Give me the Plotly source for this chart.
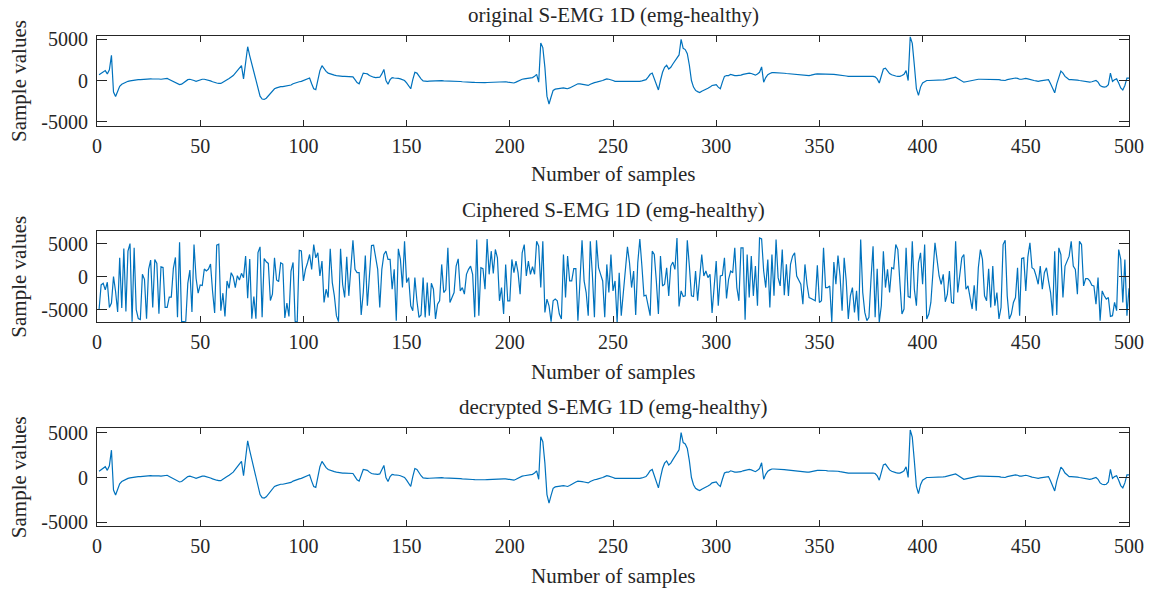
import plotly.graph_objects as go

# ---------------- data ----------------
samples = list(range(1, 501))

original = [
    700, 900, 1100, 1200, 800, 1300, 3050, -1400, -1950, -1200,
    -700, -450, -300, -200, -100, -50, 0, 50, 80, 100,
    100, 120, 130, 150, 250, 200, 180, 200, 150, 180,
    150, 200, 180, 250, 120, 0, -100, -200, -350, -500,
    -450, -250, -50, 100, 150, 100, 0, -100, 0, 100,
    150, 150, 100, 50, -50, -150, -250, -300, -350, -350,
    -200, 0, 100, 250, 400, 600, 900, 1200, 1600, 1800,
    200, 2400, 4100, 3000, 2000, 900, -200, -1200, -1900, -2250,
    -2300, -2150, -1850, -1500, -1200, -1000, -900, -800, -750, -750,
    -700, -700, -650, -550, -400, -300, -250, -150, -100, 0,
    100, 200, 300, -400, -1000, -1100, 0, 1200, 1800, 1400,
    1100, 900, 800, 700, 650, 600, 550, 500, 500, 500,
    500, 520, 500, 450, 100, -250, -400, 300, 900, 850,
    800, 600, 450, 400, 350, 350, 400, 800, 1350, 0,
    -450, 100, 350, 300, 300, 250, 200, 100, 0, -300,
    -700, -1000, 100, 1000, 900, 500, 200, -50, -100, -100,
    -80, -60, -50, -30, 0, 0, -20, -50, -50, -70,
    -80, -100, -100, -100, -100, -120, -150, -180, -200, -200,
    -200, -220, -230, -250, -250, -250, -250, -250, -240, -220,
    -200, -200, -200, -200, -180, -160, -150, -150, -200, -250,
    -300, -300, -200, -50, 50, 150, 200, 250, 300, 300,
    350, 500, 750, -200, 4550, 4000, 1600, -1900, -2850, -2000,
    -1200, -1050, -1000, -950, -900, -900, -950, -1000, -900, -750,
    -600, -500, -400, -400, -450, -500, -550, -600, -450, -300,
    -250, -200, -150, -100, 0, 100, 200, 150, 100, 0,
    -100, -100, -100, -150, -150, -100, -100, -100, -120, -100,
    -100, -100, -100, -50, 0, 100, 400, 750, 900, 200,
    -600, -1150, 0, 1000, 1600, 1850, 1400, 1600, 2000, 2400,
    2700, 3100, 5000, 3900, 3750, 3250, 1850, 0, -800, -1200,
    -1350, -1450, -1300, -1200, -1100, -950, -800, -600, -550, -500,
    -800, -1000, -200, 500, 600, 600, 750, 650, 600, 600,
    600, 650, 750, 800, 850, 900, 850, 750, 650, 800,
    1000, 1650, -200, 350, 700, 850, 950, 950, 950, 900,
    900, 900, 880, 850, 820, 800, 800, 780, 750, 700,
    650, 600, 600, 600, 600, 650, 750, 780, 800, 800,
    820, 800, 780, 750, 750, 750, 750, 720, 700, 650,
    600, 600, 550, 500, 500, 500, 500, 500, 500, 500,
    520, 550, 550, 550, 520, 500, 450, 200, -300, 600,
    1400, 1500, 1150, 850, 700, 600, 550, 500, 500, 600,
    750, 1200, 0, 5300, 4500, 1850, -1000, -1800, -800, -300,
    -100, 0, 0, 0, 0, 0, 0, 0, 50, 80,
    100, 150, 250, 300, 350, 400, 250, 100, -100, -200,
    -150, -100, -50, 50, 100, 120, 150, 150, 150, 150,
    150, 150, 150, 150, 130, 100, 100, 50, 0, 0,
    100, 150, 200, 250, 300, 250, 150, 150, 200, 250,
    200, 100, 50, 0, -50, -100, -50, 0, 50, 100,
    100, -400, -1000, -1500, -400, 500, 1150, 900, 500, 300,
    100, 100, 100, 100, 50, 0, -50, -100, -150, -200,
    -200, -150, -50, 0, -200, -600, -750, -800, -750, -500,
    900, -100, 100, 200, -300, -900, -1150, -600, 300, 300,
]

ciphered = [
    -5000, -1250, -1000, -2000, -850, -4650, -4000, 0, -2250, -5350,
    2850, -4750, 4250, -5250, 3850, 5000, -6800, 4350, -5000, -6350,
    -6500, 350, -400, -6350, 1100, 2500, -4650, 2600, 2000, -5600,
    1500, 1400, -4650, -4650, -3100, -3100, 1250, 2900, -6150, 5200,
    -6800, -6800, -6750, -1000, 1000, -5350, 4850, -250, -2500, -1250,
    -1350, 1150, 850, 1150, 1900, -2250, -5500, 4750, 4900, -5150,
    -2500, -6000, -650, -1750, 600, 0, -1650, 150, -500, 500,
    -150, 3100, -3250, 2650, -6350, -3000, -6350, 3650, 4500, -6150,
    2750, 2250, 2000, -3600, -2650, 2850, -500, -750, 2100, 1900,
    -6250, -4000, -6000, 850, 2150, -6750, -6900, 4000, 3900, -650,
    1100, 2100, 3350, 1100, 4850, 2850, 3600, 100, 2350, -3900,
    -1900, -3150, 4200, -900, -2900, -5900, -6800, 4200, -1150, -3150,
    3000, -2900, 1100, 5500, 1100, 600, 600, -5800, -2400, 3200,
    -4400, 100, 4700, 4750, 2600, 1100, -4650, 1100, 3350, 3850,
    2600, 2600, -1900, 1100, -6650, 4200, 2600, -1650, 5350, -900,
    -150, -4400, -5150, -150, -3650, -6150, -5800, -150, -6150, -900,
    -5900, -1000, -1900, -6400, -4150, -3650, 1850, -2400, -2000, 4350,
    -3900, -3150, -2400, 1600, 2700, -2150, -1650, -2650, 350, 1100,
    1600, 350, -6150, 5600, -5900, 1350, 1200, -1900, 5700, 350,
    3850, 500, 4100, 2850, -3650, -1650, -5650, 1850, -3650, -3650,
    2600, 600, 2350, 600, -2650, 3600, 4850, 100, 2350, 350,
    1500, 350, 5350, 4600, -1650, 5350, -5400, -3400, -4400, -6800,
    -3650, -3400, -3650, -5650, -6400, 3350, -3150, 3100, -650, -650,
    1200, 1200, -6650, -650, 5500, -650, -2400, -5900, 5350, 350,
    -6150, 5500, 1350, 350, -650, -6150, 1850, -2400, 3350, -2150,
    -650, -6900, 600, -5900, -2400, 2100, 4500, 2100, -1650, 850,
    -5800, 2100, 5700, 1600, -2900, -2800, -4400, -5900, 3850, 3350,
    -650, -5650, 3100, -1400, -1150, 1350, -2900, 1600, 2200, 1100,
    5850, -4500, -2150, -3000, -2900, 5500, 1600, -2900, -3000, 850,
    -3650, 350, 3350, 100, 850, -150, 350, -5500, -1150, 2350,
    -4400, 100, 200, 2850, -3300, -400, 850, 600, 4350, -1650,
    -3650, 4350, 4350, -6500, 3350, -3150, 3100, -2900, 1600, -4400,
    5850, 5700, 850, -1650, 2600, -4650, 3350, -2900, 5600, -150,
    -1400, 4100, -2800, 1850, -2900, 1850, 3100, 3600, 100, -650,
    -1150, -4150, 1850, -1150, -3150, -3300, -3500, -3650, 1700, -3900,
    -3650, 4350, -1650, -1650, -1400, -6900, 2200, -1150, 3200, 100,
    -5150, 2850, -650, -6400, -2900, -1650, -5400, -2150, -6650, 5600,
    -2400, -5400, -6650, -6150, -400, 4600, -6150, 1200, -6900, -4400,
    3850, -1650, 1100, -2400, 1350, 1200, 4850, 4100, -900, -5650,
    -4900, 4350, -3000, -3150, 5350, -1900, -4400, 2100, 3600, -1150,
    4850, -6400, -5650, -3900, 600, 5100, 2600, 100, -1150, 350,
    -3800, -2650, 850, -3900, -4000, 5350, -2400, 600, 2850, 3350,
    -1900, -1400, -3400, -4900, -1300, -5150, 1350, 4100, 2600, -2900,
    -3650, 1200, -4650, 1600, -4400, -2400, -6400, -4650, 4850, 5500,
    -2900, -6400, -5650, -3900, -3150, 1350, -5900, 2750, 2850, -2150,
    3000, 5100, 1350, 1100, 100, -1150, 1600, -1900, 600, 1350,
    -650, -2400, -5900, 3850, -5800, 4350, 3350, -3150, 1600, 2350,
    3100, 5350, 1600, 1100, -2650, 5350, 4850, -1400, -300, -300,
    -650, -1300, -1400, -4150, -150, -6650, -2150, -2900, -3400, -3150,
    -6000, -5900, -3900, -5150, 4100, 2600, -3900, 2600, -5900, -1750,
]

decrypted = list(original)

panel_titles = [
    "original S-EMG 1D (emg-healthy)",
    "Ciphered S-EMG 1D (emg-healthy)",
    "decrypted S-EMG 1D (emg-healthy)",
]
x_label = "Number of samples"
y_label = "Sample values"
x_ticks = [0, 50, 100, 150, 200, 250, 300, 350, 400, 450, 500]
y_ticks = [-5000, 0, 5000]
y_tick_text = ["-5000", "0", "5000"]

# ---------------- layout geometry ----------------
W, H = 1150, 590
LINE = "#0072BD"
TXT = "#262626"
FONT = "Liberation Serif"

x0_px, x1_px = 97, 1129
panels = [  # (top px, bottom px, y range)
    (36, 126, [-5520, 5400]),
    (231, 322.3, [-6900, 6900]),
    (428.3, 526, [-5410, 5490]),
]
series = [original, ciphered, decrypted]
title_y = [15, 210, 407]
xlab_y = [174, 372, 576]

fig = go.Figure()
annotations = []
for i, ((top, bot, yr), ys) in enumerate(zip(panels, series)):
    xa = "x" if i == 0 else f"x{i+1}"
    ya = "y" if i == 0 else f"y{i+1}"
    fig.add_trace(go.Scatter(x=samples, y=ys, mode="lines",
                             line=dict(color=LINE, width=1.2),
                             xaxis=xa, yaxis=ya, showlegend=False,
                             hoverinfo="skip"))
    axkey_x = "xaxis" if i == 0 else f"xaxis{i+1}"
    axkey_y = "yaxis" if i == 0 else f"yaxis{i+1}"
    common = dict(showgrid=False, zeroline=False, showline=True, linecolor=TXT,
                  linewidth=1, mirror="allticks", ticks="inside", tickcolor=TXT,
                  tickwidth=1, automargin=False,
                  tickfont=dict(family=FONT, size=20, color=TXT))
    fig.update_layout(**{
        axkey_x: dict(domain=[x0_px / W, x1_px / W], range=[0, 500],
                      tickvals=x_ticks, ticklen=6, anchor=ya,
                      ticklabelstandoff=2, **common),
        axkey_y: dict(domain=[1 - bot / H, 1 - top / H], range=yr,
                      tickvals=y_ticks, ticktext=y_tick_text, ticklen=10,
                      anchor=xa, ticklabelstandoff=4, **common),
    })
    annotations.append(dict(text=panel_titles[i], x=(x0_px + x1_px) / 2 / W,
                            y=1 - title_y[i] / H, xref="paper", yref="paper",
                            showarrow=False, xanchor="center", yanchor="middle",
                            font=dict(family=FONT, size=21, color=TXT)))
    annotations.append(dict(text=x_label, x=(x0_px + x1_px) / 2 / W,
                            y=1 - xlab_y[i] / H, xref="paper", yref="paper",
                            showarrow=False, xanchor="center", yanchor="middle",
                            font=dict(family=FONT, size=21, color=TXT)))
    annotations.append(dict(text=y_label, x=19 / W,
                            y=1 - (top + bot) / 2 / H, xref="paper", yref="paper",
                            showarrow=False, xanchor="center", yanchor="middle",
                            textangle=-90,
                            font=dict(family=FONT, size=21, color=TXT)))

fig.update_layout(width=W, height=H, margin=dict(l=0, r=0, t=0, b=0),
                  paper_bgcolor="white", plot_bgcolor="white",
                  annotations=annotations)

fig.write_html("out.html")
